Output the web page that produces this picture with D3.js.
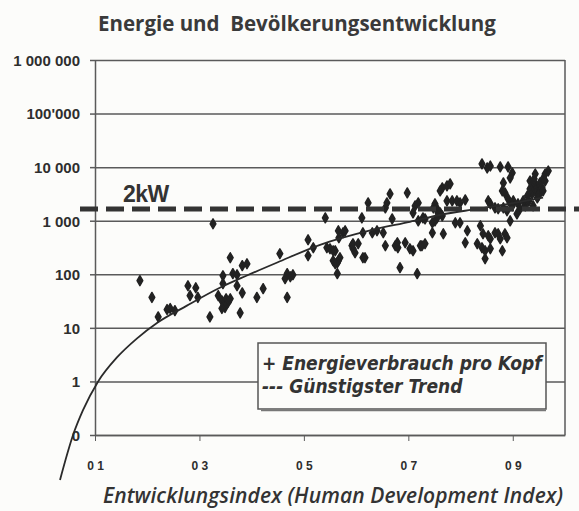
<!DOCTYPE html>
<html>
<head>
<meta charset="utf-8">
<script src="https://cdn.jsdelivr.net/npm/d3@7"></script>
<style>
  html, body { margin: 0; padding: 0; background: #fcfcfa; }
  svg { display: block; }
</style>
</head>
<body>
<svg id="chart" width="579" height="511"></svg>
<script>
// ---------- data ----------
const chartTitle = "Energie und  Bevölkerungsentwicklung";
const xTitle = "Entwicklungsindex (Human Development Index)";
const yTickValues = [0.1, 1, 10, 100, 1000, 10000, 100000, 1000000];
const yTickLabels = ["0", "1", "10", "100", "1 000", "10 000", "100'000", "1 000 000"];
const xTickValues = [0.1, 0.3, 0.5, 0.7, 0.9];
const xTickLabels = ["0 1", "0 3", "0 5", "0 7", "0 9"];
const legendLines = ["+ Energieverbrauch pro Kopf", "--- Günstigster Trend"];
const thresholdValue = 1650;
const thresholdLabel = "2kW";

// HDI of each country (scatter points)
const hdi = [
  0.186,0.209,0.221,0.238,0.244,0.253,0.278,0.293,0.282,0.297,0.320,0.326,0.336,
  0.343,0.347,0.351,0.355,0.349,0.359,0.343,0.359,0.345,0.345,0.364,0.372,0.382,
  0.391,0.372,0.382,0.378,0.410,0.422,0.454,0.468,0.474,0.479,0.464,0.468,0.508,
  0.508,0.518,0.544,0.550,0.541,0.564,0.566,0.567,0.566,0.560,0.556,0.564,0.575,
  0.592,0.594,0.604,0.598,0.617,0.611,0.623,0.613,0.631,0.640,0.652,0.656,0.659,
  0.665,0.669,0.656,0.675,0.679,0.680,0.694,0.698,0.684,0.713,0.709,0.709,0.719,
  0.717,0.703,0.726,0.732,0.719,0.579,0.594,0.569,0.560,0.613,0.556,
  0.841,0.851,0.857,0.876,0.891,0.899,0.895,0.882,0.880,0.885,0.943,0.962,
  0.933,0.939,0.945,0.949,0.943,0.952,0.952,0.937,0.928,0.947,0.958,0.933,0.956,
  0.941,0.949,0.931,0.924,0.920,0.910,0.914,0.908,0.901,0.895,0.899,0.891,0.895,
  0.939,0.882,0.889,0.866,0.872,0.853,0.857,0.765,0.774,0.780,0.761,0.774,0.784,
  0.793,0.799,0.809,0.751,0.755,0.757,0.748,0.761,0.765,0.755,0.751,0.746,0.728,
  0.732,0.790,0.799,0.746,0.767,0.813,0.809,0.838,0.843,0.853,0.857,0.866,0.872,
  0.876,0.885,0.889,0.832,0.841,0.847,0.857,0.880,0.847,0.723,0.968,0.962,0.958
];
// energy consumption per capita (W) of each country
const energy = [
  76,37,16,22,23,21,61,56,40,37,16,875,40,
  32,28,35,30,24,35,23,204,94,67,103,98,145,
  157,61,45,19,37,54,242,103,90,98,83,37,441,
  222,313,313,300,1130,103,649,480,179,275,179,164,595,
  341,300,372,252,204,1130,2150,595,595,649,595,1740,2150,
  3170,1080,341,341,388,313,388,3310,133,1890,1400,275,995,
  103,300,341,372,2150,649,372,204,157,204,275,
  11500,9670,10500,10100,10100,7800,6290,5080,3600,3310,7470,7470,
  5530,4870,4470,3930,3600,5080,3310,3170,2910,2670,6030,3930,4100,
  6030,2910,2350,1890,2350,2070,1670,1340,2350,2150,1890,2560,995,
  1890,1740,1530,1740,1670,2350,2070,4100,4470,4870,3600,2350,2350,
  2350,2150,2450,2070,1670,1400,1740,1400,1230,1130,995,914,1130,
  1080,914,914,595,570,649,388,804,570,523,460,595,570,
  460,570,480,372,313,275,300,275,195,341,8490,5530,3600
];

// trend curve
const trendHdi = [0.033,0.058,0.077,0.106,0.142,0.180,0.220,0.276,0.339,0.391,0.449,0.531,0.627,0.703,0.767,0.832,0.895,0.958];
const trendEnergy = [0.0145,0.1,0.29,1.0,2.8,6.3,12.6,26,56,95,166,355,660,955,1320,1660,2090,2700];

// ---------- drawing ----------
const ink = "#2e2e2e";
const gridColor = "#5a5a5a";
const svg = d3.select("#chart");

const x = d3.scaleLinear().domain([0.1, 1.0]).range([95, 565]);
const y = d3.scaleLog().domain([0.1, 1000000]).range([435, 60]);

// grid lines
svg.append("g")
  .attr("transform", "translate(95,0)")
  .call(d3.axisLeft(y).tickValues(yTickValues).tickSize(-470).tickSizeOuter(0).tickFormat(""))
  .call(g => g.select(".domain").remove())
  .call(g => g.selectAll("line").attr("stroke", gridColor).attr("stroke-width", 1.5));

// y axis with labels
svg.append("g")
  .attr("transform", "translate(95,0)")
  .call(d3.axisLeft(y).tickValues(yTickValues).tickSize(5).tickSizeOuter(0).tickPadding(10)
        .tickFormat((d, i) => yTickLabels[i]))
  .call(g => g.select(".domain").attr("stroke", gridColor).attr("stroke-width", 1.5))
  .call(g => g.selectAll("line").attr("stroke", gridColor).attr("stroke-width", 1.5))
  .call(g => g.selectAll("text")
      .attr("fill", ink)
      .style("font-family", "'Liberation Sans', Arial, sans-serif")
      .style("font-weight", "bold")
      .style("font-size", "15px")
      .attr("dy", "0.36em"));

// x axis
svg.append("g")
  .attr("transform", "translate(0,435)")
  .call(d3.axisBottom(x).tickValues(xTickValues).tickSize(6).tickSizeOuter(0).tickPadding(20)
        .tickFormat((d, i) => xTickLabels[i]))
  .call(g => g.select(".domain").attr("stroke", gridColor).attr("stroke-width", 1.5))
  .call(g => g.selectAll("line").attr("stroke", gridColor).attr("stroke-width", 1))
  .call(g => g.selectAll("text")
      .attr("fill", ink)
      .style("font-family", "'Liberation Sans', Arial, sans-serif")
      .style("font-weight", "bold")
      .style("font-size", "12px"));

// right frame
svg.append("line")
  .attr("x1", x(1.0)).attr("x2", x(1.0))
  .attr("y1", y(1000000)).attr("y2", y(0.1))
  .attr("stroke", gridColor).attr("stroke-width", 1.5);

// scatter points
const pts = hdi.map((h, i) => ({ h, e: energy[i] }));
svg.append("g")
  .selectAll("path")
  .data(pts)
  .join("path")
  .attr("d", d3.symbol(d3.symbolDiamond, 28))
  .attr("transform", d => `translate(${x(d.h)},${y(d.e)})`)
  .attr("fill", "#222")
  .attr("stroke", "#222")
  .attr("stroke-width", 1.5)
  .attr("stroke-linejoin", "round");

// trend curve
const trend = trendHdi.map((h, i) => [h, trendEnergy[i]]);
svg.append("path")
  .datum(trend)
  .attr("d", d3.line().x(d => x(d[0])).y(d => y(d[1])).curve(d3.curveMonotoneX))
  .attr("fill", "none")
  .attr("stroke", "#2a2a2a")
  .attr("stroke-width", 1.8);

// 2 kW dashed threshold
svg.append("line")
  .attr("x1", 80).attr("x2", 579)
  .attr("y1", y(thresholdValue)).attr("y2", y(thresholdValue))
  .attr("stroke", "#333")
  .attr("stroke-width", 5)
  .attr("stroke-dasharray", "18,8");

svg.append("text")
  .attr("x", 123).attr("y", 202)
  .attr("fill", "#333")
  .style("font-family", "'Liberation Sans', Arial, sans-serif")
  .style("font-weight", "bold")
  .style("font-size", "23px")
  .style("letter-spacing", "-0.5px")
  .text(thresholdLabel);

// legend box
const lg = svg.append("g");
lg.append("rect")
  .attr("x", 258).attr("y", 343).attr("width", 288).attr("height", 66)
  .attr("fill", "#fcfcfa").attr("stroke", "#555").attr("stroke-width", 1.5);
lg.append("line")
  .attr("x1", 261).attr("x2", 546).attr("y1", 410.5).attr("y2", 410.5)
  .attr("stroke", "#777").attr("stroke-width", 1.5);
lg.selectAll("text.leg")
  .data(legendLines)
  .join("text")
  .attr("class", "leg")
  .attr("x", 262)
  .attr("y", (d, i) => 370 + i * 23)
  .attr("fill", "#333")
  .style("font-family", "'DejaVu Sans Condensed', 'DejaVu Sans', sans-serif")
  .style("font-style", "oblique")
  .style("font-weight", "bold")
  .style("font-size", "19px")
  .text(d => d);

// title
svg.append("text")
  .attr("x", 98).attr("y", 31)
  .attr("fill", "#3a3a3a")
  .style("font-family", "'Open Sans', sans-serif")
  .style("font-weight", "bold")
  .style("font-size", "20.5px")
  .style("white-space", "pre")
  .attr("xml:space", "preserve")
  .text(chartTitle);

// x axis title
svg.append("text")
  .attr("x", 103).attr("y", 503)
  .attr("fill", "#333")
  .style("font-family", "'Open Sans', sans-serif")
  .style("font-style", "italic")
  .style("font-weight", "600")
  .style("font-size", "21px")
  .style("letter-spacing", "0.1px")
  .text(xTitle);
</script>
</body>
</html>
